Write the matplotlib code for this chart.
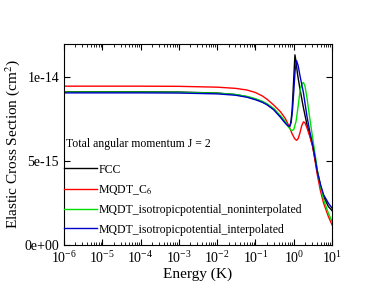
import matplotlib
matplotlib.use("Agg")
import matplotlib.pyplot as plt
from matplotlib.ticker import FixedLocator, FixedFormatter, LogLocator, NullFormatter

plt.rcParams['font.family'] = ['Liberation Serif', 'DejaVu Serif']
plt.rcParams['mathtext.fontset'] = 'stix'

# energies (K) and cross sections (units of 1e-14 cm^2)
e_fcc = [1e-6, 1e-4, 1e-3, 1e-2, 0.03, 0.06, 0.1, 0.15, 0.2, 0.3, 0.45, 0.6, 0.7, 0.75, 0.8, 0.85,
         0.9, 0.95, 1.0, 1.07, 1.15, 1.25, 1.45, 1.78, 2.2, 2.6, 3.1, 3.6, 4.1, 5, 6, 8, 10]
fcc = [0.914, 0.914, 0.913, 0.907, 0.898, 0.885, 0.87, 0.855, 0.84, 0.81, 0.765, 0.73, 0.712, 0.706,
       0.712, 0.745, 0.8, 0.9, 1.0, 1.135, 1.09, 1.02, 0.93, 0.82, 0.72, 0.66, 0.59, 0.51, 0.44, 0.35,
       0.29, 0.23, 0.205]

e_c6 = [1e-6, 1e-4, 1e-3, 1e-2, 0.03, 0.06, 0.1, 0.15, 0.2, 0.3, 0.45, 0.6, 0.75, 0.9, 1.05, 1.18,
        1.3, 1.45, 1.6, 1.78, 1.95, 2.2, 2.6, 3.1, 3.6, 4.1, 5, 6, 8, 10]
c6 = [0.948, 0.948, 0.947, 0.942, 0.935, 0.925, 0.91, 0.89, 0.87, 0.835, 0.795, 0.755, 0.71, 0.665,
      0.635, 0.625, 0.635, 0.67, 0.71, 0.735, 0.73, 0.7, 0.65, 0.59, 0.5, 0.42, 0.32, 0.25, 0.17, 0.12]

e_noint = [1e-6, 1e-4, 1e-3, 1e-2, 0.03, 0.06, 0.1, 0.15, 0.2, 0.3, 0.45, 0.6, 0.75, 0.88, 1.0, 1.15,
           1.3, 1.45, 1.6, 1.78, 1.95, 2.2, 2.6, 3.1, 3.6, 4.1, 5, 6, 8, 10]
noint = [0.912, 0.912, 0.911, 0.906, 0.898, 0.887, 0.873, 0.858, 0.843, 0.815, 0.772, 0.738, 0.7,
         0.682, 0.69, 0.74, 0.83, 0.92, 0.96, 0.97, 0.95, 0.88, 0.76, 0.64, 0.54, 0.45, 0.35, 0.27,
         0.19, 0.14]

e_int = [1e-6, 1e-4, 1e-3, 1e-2, 0.03, 0.06, 0.1, 0.15, 0.2, 0.3, 0.45, 0.6, 0.72, 0.78, 0.85, 0.92,
         1.0, 1.08, 1.18, 1.3, 1.45, 1.78, 2.2, 2.6, 3.1, 3.6, 4.1, 5, 6, 8, 10]
interp = [0.908, 0.908, 0.907, 0.902, 0.894, 0.882, 0.867, 0.852, 0.837, 0.807, 0.762, 0.727,
          0.71, 0.708, 0.73, 0.8, 0.92, 1.04, 1.10, 1.07, 1.01, 0.91, 0.77, 0.68, 0.6, 0.52, 0.44,
          0.36, 0.3, 0.25, 0.22]

labels = ['FCC', 'MQDT_C$_6$', 'MQDT_isotropicpotential_noninterpolated',
          'MQDT_isotropicpotential_interpolated']
colors = ['black', 'red', '#00e000', '#0000cc']

fig = plt.figure(figsize=(3.74, 2.89), dpi=100)
ax = fig.add_axes([0.171, 0.152, 0.717, 0.696])

series = [(e_fcc, fcc), (e_c6, c6), (e_noint, noint), (e_int, interp)]
for (x, y), lab, c in zip(series, labels, colors):
    ax.plot(x, [v * 1e-14 for v in y], color=c, lw=1.0, label=lab)

ax.set_xscale('log')
ax.set_xlim(1e-6, 10)
ax.set_ylim(0, 1.2e-14)
ax.xaxis.set_major_locator(LogLocator(base=10, numticks=20))
ax.xaxis.set_minor_locator(LogLocator(base=10, subs=range(2, 10), numticks=20))
ax.xaxis.set_minor_formatter(NullFormatter())
ax.yaxis.set_major_locator(FixedLocator([0, 5e-15, 1e-14]))
ax.yaxis.set_major_formatter(FixedFormatter(['0e+00', '5e-15', '1e-14']))
ax.tick_params(which='both', direction='in', top=True, right=True, labelsize=10)
ax.tick_params(which='major', length=4)
ax.tick_params(which='minor', length=2)
for s in ax.spines.values():
    s.set_linewidth(0.8)

ax.set_xlabel('Energy (K)', fontsize=11, labelpad=1)
ax.set_ylabel('Elastic Cross Section (cm$^2$)', fontsize=11, labelpad=2)

ax.text(0.008, 0.502, 'Total angular momentum J = 2', transform=ax.transAxes,
        fontsize=8.5, va='center', ha='left')
leg = ax.legend(loc='upper left', bbox_to_anchor=(0.0, 0.405), frameon=False, fontsize=8.5,
                handlelength=2.8, handletextpad=0.1, borderpad=0, borderaxespad=0,
                labelspacing=0.62)

fig.savefig('out.png', dpi=100)
